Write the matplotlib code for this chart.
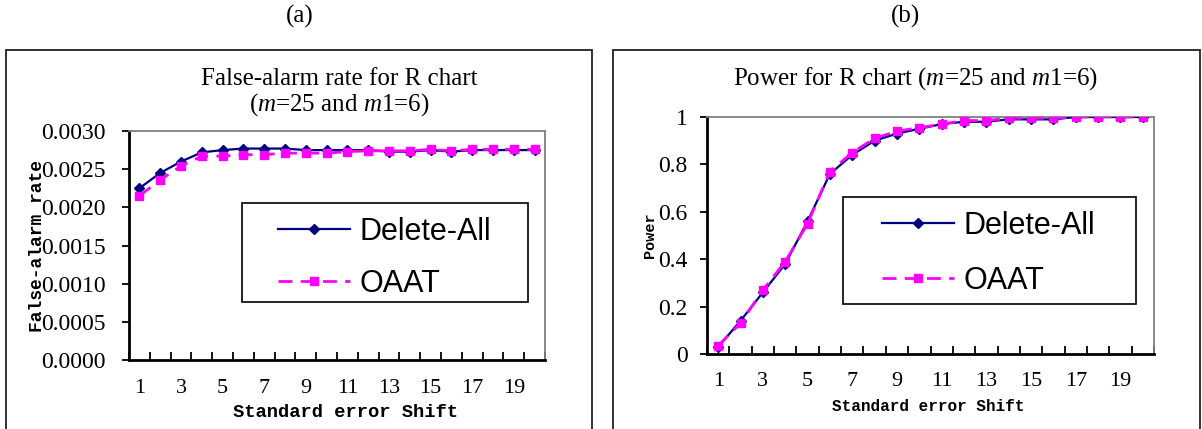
import matplotlib
matplotlib.use('Agg')
import matplotlib.pyplot as plt
from matplotlib.patches import Rectangle

# shift levels 1..20
shifts = list(range(1, 21))
shift_labels = [str(s) for s in shifts if s % 2 == 1]

# false-alarm rate, R chart (m=25, m1=6)
fa_delete_all = [0.00225, 0.00245, 0.00260, 0.00272, 0.00275, 0.00277, 0.00277,
                 0.00277, 0.00275, 0.00275, 0.00275, 0.00275, 0.00273, 0.00273,
                 0.00275, 0.00273, 0.00275, 0.00275, 0.00275, 0.00275]
fa_oaat = [0.00215, 0.00236, 0.00254, 0.00267, 0.00267, 0.00269, 0.00269,
           0.00271, 0.00271, 0.00271, 0.00273, 0.00274, 0.00274, 0.00274,
           0.00276, 0.00274, 0.00276, 0.00276, 0.00276, 0.00276]
fa_yticks = [0.0, 0.0005, 0.0010, 0.0015, 0.0020, 0.0025, 0.0030]

# power, R chart (m=25, m1=6)
pw_delete_all = [0.03, 0.14, 0.26, 0.38, 0.56, 0.76, 0.84, 0.90, 0.93, 0.95,
                 0.97, 0.98, 0.98, 0.99, 0.99, 0.99, 1.00, 1.00, 1.00, 1.00]
pw_oaat = [0.035, 0.13, 0.27, 0.39, 0.55, 0.77, 0.85, 0.91, 0.94, 0.955,
           0.97, 0.985, 0.985, 0.995, 0.995, 0.995, 1.00, 1.00, 1.00, 1.00]
pw_yticks = [0, 0.2, 0.4, 0.6, 0.8, 1]

W, H = 1202, 429
SERIF = 'Liberation Serif'
MONO = 'Liberation Mono'

plt.rcParams['mathtext.fontset'] = 'custom'
plt.rcParams['mathtext.rm'] = 'Liberation Serif'
plt.rcParams['mathtext.it'] = 'Liberation Serif:italic'

fig = plt.figure(figsize=(W / 100, H / 100), dpi=100)


def px_rect(x0, y0, x1, y1):
    # pixel box (top-left origin) -> figure fraction [left, bottom, w, h]
    return [x0 / W, 1 - y1 / H, (x1 - x0) / W, (y1 - y0) / H]


def fig_box(x0, y0, x1, y1, color, lw):
    l, b, w, h = px_rect(x0, y0, x1, y1)
    fig.patches.append(Rectangle((l, b), w, h, transform=fig.transFigure,
                                 fill=False, edgecolor=color, linewidth=lw,
                                 zorder=5))


def draw_chart(ax, y_a, y_b, yticks, ylim, yfmt, ytick_pad, xtick_pad):
    ax.plot(shifts, y_a, color='#000080', marker='D', markersize=5.5,
            linewidth=1.6, label='Delete-All', zorder=3)
    ax.plot(shifts, y_b, color='#FF00FF', marker='s', markersize=6,
            linewidth=2.0, dashes=(5, 3), label='OAAT', zorder=4)
    ax.set_xlim(0.5, 20.5)
    ax.set_ylim(*ylim)

    # bin-boundary ticks pointing inward, labels on odd shifts
    ax.set_xticks([s + 0.5 for s in range(0, 21)])
    ax.set_xticklabels([])
    ax.tick_params(axis='x', which='major', direction='in', length=6, width=1.3)
    ax.set_xticks([s for s in shifts if s % 2 == 1], minor=True)
    ax.set_xticklabels(shift_labels, minor=True, fontfamily=SERIF, fontsize=16)
    ax.tick_params(axis='x', which='minor', length=0, pad=xtick_pad)

    ax.set_yticks(yticks)
    ax.set_yticklabels([yfmt(v) for v in yticks], fontfamily=SERIF, fontsize=17)
    ax.tick_params(axis='y', direction='out', length=5, width=1.3, pad=ytick_pad)

    for side in ('top', 'right'):
        ax.spines[side].set_color('#808080')
        ax.spines[side].set_linewidth(1.3)
    for side in ('left', 'bottom'):
        ax.spines[side].set_color('black')
        ax.spines[side].set_linewidth(2.0)


def add_legend(ax, x, y, spacing):
    leg = ax.legend(loc='upper left', prop={'family': 'Liberation Sans', 'size': 22},
                    frameon=False, handlelength=2.35, handletextpad=0.33,
                    borderpad=0, labelspacing=spacing, borderaxespad=0)
    leg.set_bbox_to_anchor((x / W, 1 - y / H), transform=fig.transFigure)
    return leg


# ---- (a) false-alarm rate ----
fig_box(6, 50, 592, 440, '#222222', 1.3)
ax1 = fig.add_axes(px_rect(129, 131, 545, 360))
draw_chart(ax1, fa_delete_all, fa_oaat, fa_yticks, (0, 0.0030),
           lambda v: f'{v:.4f}', 12, 14)
ax1.set_xlabel('Standard error Shift', fontfamily=MONO, fontweight='bold', fontsize=13.5)
ax1.xaxis.set_label_coords(0.52, -0.19)
ax1.set_ylabel('False-alarm rate', fontfamily=MONO, fontweight='bold', fontsize=13)
ax1.yaxis.set_label_coords(-0.2, 0.5)
add_legend(ax1, 278, 217, 0.72)
fig_box(242, 203, 528, 302, 'black', 1.2)
fig.text(339 / W, 1 - 79 / H, 'False-alarm rate for R chart', fontfamily=SERIF,
         fontsize=18, ha='center', va='center')
fig.text(339 / W, 1 - 105 / H, r'($\mathit{m}$=25 and $\mathit{m1}$=6)',
         fontfamily=SERIF, fontsize=18, ha='center', va='center')
fig.text(300 / W, 1 - 16 / H, '(a)', fontfamily=SERIF, fontsize=18,
         ha='center', va='center')

# ---- (b) power ----
fig_box(613, 50, 1200, 440, '#222222', 1.3)
ax2 = fig.add_axes(px_rect(707, 117, 1154, 354))
draw_chart(ax2, pw_delete_all, pw_oaat, pw_yticks, (0, 1),
           lambda v: f'{v:g}', 9, 13)
ax2.set_xlabel('Standard error Shift', fontfamily=MONO, fontweight='bold', fontsize=11.5)
ax2.xaxis.set_label_coords(0.496, -0.19)
ax2.set_ylabel('Power', fontfamily=MONO, fontweight='bold', fontsize=11)
ax2.yaxis.set_label_coords(-0.112, 0.5)
add_legend(ax2, 882, 211, 0.82)
fig_box(843, 197, 1136, 304, 'black', 1.2)
fig.text(916 / W, 1 - 79 / H, r'Power for R chart ($\mathit{m}$=25 and $\mathit{m1}$=6)',
         fontfamily=SERIF, fontsize=18, ha='center', va='center')
fig.text(905 / W, 1 - 16 / H, '(b)', fontfamily=SERIF, fontsize=18,
         ha='center', va='center')

fig.savefig('out.png', dpi=100)
